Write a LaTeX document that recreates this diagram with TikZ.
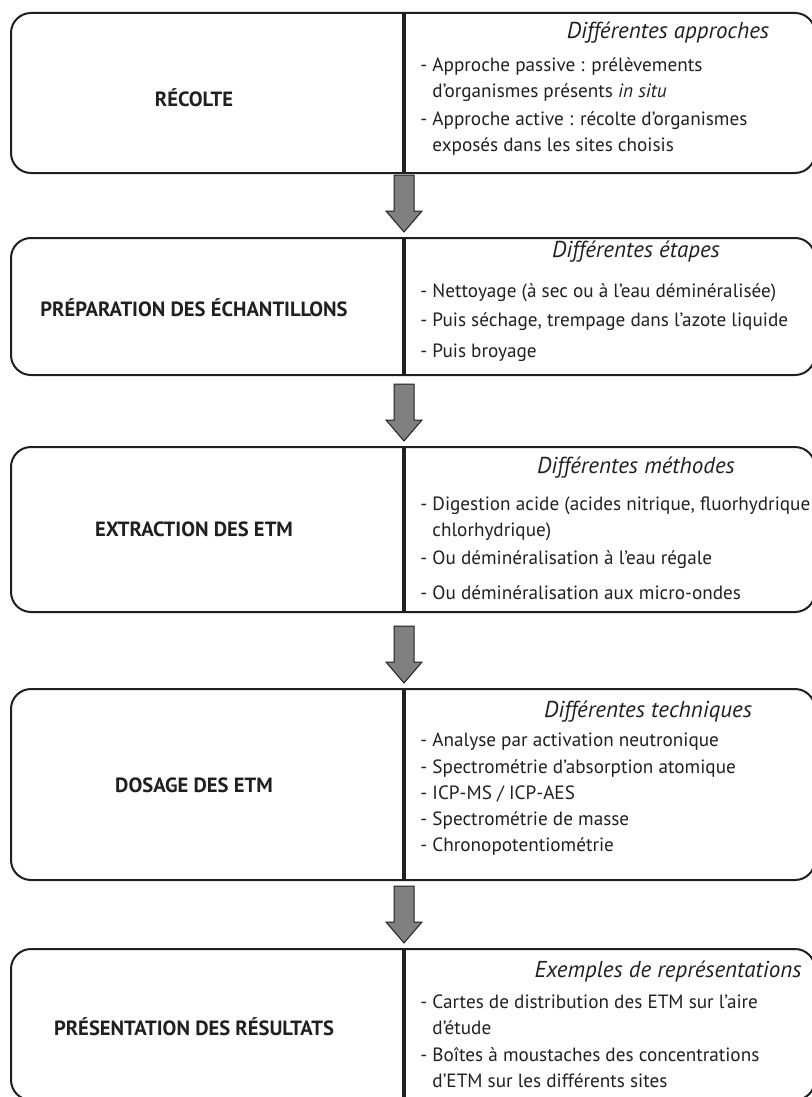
\documentclass[tikz,border=0pt]{standalone}
\usepackage{fontspec}
\setmainfont{PT Sans}
\usepackage{tikz}
\usetikzlibrary{positioning,calc}
\definecolor{inkblack}{RGB}{35,31,32}
\definecolor{arrowgray}{RGB}{128,128,131}

\begin{document}
\begin{tikzpicture}[x=0.5pt,y=-0.5pt,
  stage/.style={draw=inkblack,line width=1pt,rounded corners=10pt,minimum width=402pt,inner sep=0pt},
  stagelabel/.style={font=\bfseries\fontsize{10.3}{12}\selectfont,text=inkblack},
  heading/.style={font=\itshape\fontsize{11.5}{13}\selectfont,text=inkblack},
  item/.style={anchor=west,align=left,inner sep=0pt,font=\fontsize{9.6}{13}\selectfont,text=inkblack},
  divider/.style={draw=inkblack,line width=2pt},
  flowarrow/.style={fill=arrowgray,draw=inkblack,line width=0.5pt,line join=miter}]
  \useasboundingbox (0,0) rectangle (811,1097);
  \coordinate (sep) at (404,0);
  % the five stages
  \node[stage,minimum height=80pt]   (rec)  at (413,93)     {};
  \node[stage,minimum height=68.5pt] (prep) at (413,306.5)  {};
  \node[stage,minimum height=82.5pt] (extr) at (413,529.5)  {};
  \node[stage,minimum height=95.5pt] (dos)  at (413,784.5)  {};
  \node[stage,minimum height=75.5pt] (pres) at (413,1024.5) {};
  \foreach \b in {rec,prep,extr,dos,pres}
    \draw[divider] (\b.north -| sep) -- (\b.south -| sep);
  % block arrows between stages
  \foreach \b in {prep,extr,dos,pres}
    \draw[flowarrow] ($(\b.north -| sep)+(0,-5)$) -- ++(18,-21) -- ++(-8,0) -- ++(0,-36)
      -- ++(-20,0) -- ++(0,36) -- ++(-8,0) -- cycle;
  % left column
  \node[stagelabel] (reclab)  at (194,98)   {RÉCOLTE};
  \node[stagelabel] (preplab) at (194,308)  {PRÉPARATION DES ÉCHANTILLONS};
  \node[stagelabel] (extrlab) at (194,529)  {EXTRACTION DES ETM};
  \node[stagelabel] (doslab)  at (194,785)  {DOSAGE DES ETM};
  \node[stagelabel] (preslab) at (194,1027) {PRÉSENTATION DES RÉSULTATS};
  % right column
  \node[heading] (rech) at (668,33) {Différentes approches};
  \node[item] (rec1) at (420,79.5) {- Approche passive : prélèvements\\\hphantom{-\ }d’organismes présents \textit{in situ}};
  \node[item] (rec2) at (420,133.5) {- Approche active : récolte d’organismes\\\hphantom{-\ }exposés dans les sites choisis};

  \node[heading] (preph) at (636,252) {Différentes étapes};
  \node[item] (prep1) at (420,293) {- Nettoyage (à sec ou à l’eau déminéralisée)};
  \node[item] (prep2) at (420,322) {- Puis séchage, trempage dans l’azote liquide};
  \node[item] (prep3) at (420,353) {- Puis broyage};

  \node[heading] (extrh) at (636,468) {Différentes méthodes};
  \node[item] (extr1) at (420,518.5) {- Digestion acide (acides nitrique, fluorhydrique\\\hphantom{-\ }chlorhydrique)};
  \node[item] (extr2) at (420,560) {- Ou déminéralisation à l’eau régale};
  \node[item] (extr3) at (420,593) {- Ou déminéralisation aux micro-ondes};

  \node[heading] (dosh) at (648,712) {Différentes techniques};
  \node[item] (dos1) at (420,742) {- Analyse par activation neutronique};
  \node[item] (dos2) at (420,768) {- Spectrométrie d’absorption atomique};
  \node[item] (dos3) at (420,794) {- ICP-MS / ICP-AES};
  \node[item] (dos4) at (420,820) {- Spectrométrie de masse};
  \node[item] (dos5) at (420,846) {- Chronopotentiométrie};

  \node[heading] (presh) at (668,972) {Exemples de représentations};
  \node[item] (pres1) at (420,1015) {- Cartes de distribution des ETM sur l’aire\\\hphantom{-\ }d’étude};
  \node[item] (pres2) at (420,1067.5) {- Boîtes à moustaches des concentrations\\\hphantom{-\ }d’ETM sur les différents sites};
\end{tikzpicture}
\end{document}
